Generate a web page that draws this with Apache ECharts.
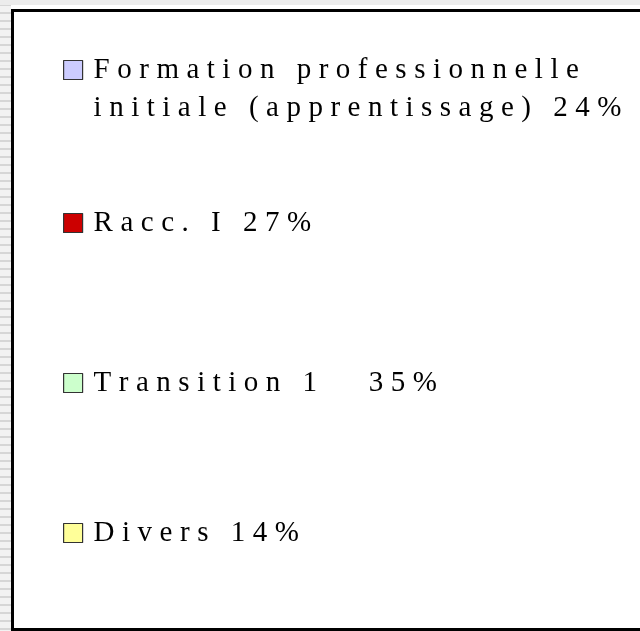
<!DOCTYPE html>
<html>
<head>
    <title></title>
    <meta charset="UTF-8">
    <script type="text/javascript" src="https://cdn.jsdelivr.net/npm/echarts@6/dist/echarts.min.js"></script>
    <style type="text/css">
        html, body {
            margin: 0;
            padding: 0;
            background: #fff;
        }
        #page {
            position: relative;
            width: 640px;
            height: 631px;
            overflow: hidden;
            background: #fff;
        }
        #stripes {
            position: absolute;
            left: 0;
            top: 0;
            width: 11px;
            height: 631px;
            background: repeating-linear-gradient(to bottom, #f2f2f2 0px, #f2f2f2 4px, #d6d6d6 4px, #d6d6d6 6px, #f2f2f2 6px, #f2f2f2 8px);
        }
        #topband {
            position: absolute;
            left: 0;
            top: 0;
            width: 640px;
            height: 5px;
            background: #ececec;
        }
        #frame {
            position: absolute;
            left: 11px;
            top: 9px;
            width: 700px;
            height: 622px;
            box-sizing: border-box;
            border: 3px solid #000;
            border-right: none;
            background: #fff;
        }
        #chart {
            position: absolute;
            left: 0;
            top: 0;
            width: 640px;
            height: 631px;
        }
    </style>
</head>
<body>
<div id="page">
    <div id="stripes"></div>
    <div id="topband"></div>
    <div id="frame"></div>
    <div id="chart"></div>
</div>

<script type="text/javascript">
    // data
    var categories = ['Formation professionnelle\ninitiale (apprentissage)', 'Racc. I', 'Transition 1', 'Divers'];
    var shares = [24, 27, 35, 14];
    var separators = [' ', ' ', '   ', ' '];
    var colors = ['#ccccff', '#cc0000', '#ccffcc', '#ffff99'];

    // legend layout (one legend block per entry, the gaps are uneven)
    var legendTops = [13, 204, 364, 514];

    var chart = echarts.init(document.getElementById('chart'), null, {renderer: 'canvas'});

    var pieData = [];
    for (var i = 0; i < categories.length; i++) {
        pieData.push({name: categories[i], value: shares[i]});
    }

    // the original legend text is widely letter-spaced: every character
    // goes in its own rich token with some right padding
    function spaced(str) {
        var out = '';
        for (var n = 0; n < str.length; n++) {
            var ch = str.charAt(n);
            out += (ch === '\n') ? '\n' : '{c|' + ch + '}';
        }
        return out;
    }

    var serif = 'Liberation Serif';

    var legends = [];
    for (var j = 0; j < categories.length; j++) {
        legends.push({
            orient: 'vertical',
            left: 63,
            top: legendTops[j],
            padding: 0,
            itemWidth: 19,
            itemHeight: 19,
            icon: 'rect',
            data: [categories[j]],
            itemStyle: {
                borderColor: '#333',
                borderWidth: 1.2
            },
            formatter: function (name) {
                var k = categories.indexOf(name);
                var txt = spaced(name + separators[k] + shares[k] + '%');
                // keep the square level with the first line of a two-line label
                if (name.indexOf('\n') >= 0) {
                    txt = '\n' + txt;
                }
                return txt;
            },
            textStyle: {
                fontFamily: serif,
                fontSize: 29,
                color: '#000',
                lineHeight: 38,
                padding: [0, 0, 0, 6],
                rich: {
                    c: {
                        fontFamily: serif,
                        fontSize: 29,
                        color: '#000',
                        lineHeight: 38,
                        padding: [0, 7.5, 0, 0]
                    }
                }
            }
        });
    }

    chart.setOption({
        animation: false,
        color: colors,
        textStyle: {
            fontFamily: serif
        },
        legend: legends,
        series: [{
            name: 'Répartition',
            type: 'pie',
            // the pie itself lies outside this crop, to the right
            center: ['170%', '50%'],
            radius: 200,
            data: pieData,
            label: {show: false},
            labelLine: {show: false},
            itemStyle: {
                borderColor: '#000',
                borderWidth: 1
            }
        }]
    });
</script>

</body>
</html>
